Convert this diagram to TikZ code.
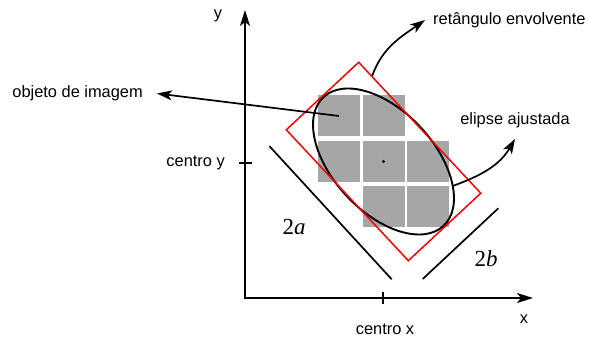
\documentclass[tikz,border=0pt]{standalone}
\usepackage{fontspec}
\setmainfont{Liberation Sans}
\newfontfamily\timesfont{Liberation Serif}
\usetikzlibrary{arrows.meta,shapes.geometric,calc}

\begin{document}
\begin{tikzpicture}[x=1pt, y=1pt,
    txt/.style={font=\fontsize{16.4}{19}\selectfont, inner sep=0pt},
    cell/.style={rectangle, fill=black!35, minimum width=42pt, minimum height=41pt, inner sep=0pt},
    axis/.style={line width=1.9pt, {Stealth[length=16pt,width=10pt,inset=4pt]}-{Stealth[length=16pt,width=10pt,inset=4pt]}},
    pointer/.style={line width=1.7pt, -{Stealth[length=15pt,width=10pt,inset=4pt]}},
    dim/.style={line width=1.7pt},
    dimlabel/.style={font=\timesfont\fontsize{23}{27}\selectfont, inner sep=0pt}
  ]
  \useasboundingbox (0,0) rectangle (589,340);

  % axes
  \coordinate (ytop) at (245,330);
  \coordinate (o) at (245,42);
  \coordinate (xend) at (533,42);
  \draw[axis] (ytop) -- (o) -- (xend);
  \draw[line width=1.9pt] (239,177) -- (252,177);
  \draw[line width=1.9pt] (383,36) -- (383,48);
  \node[txt] (ylab) at (218,324) {y};
  \node[txt] (xlab) at (524,21) {x};
  \node[txt, anchor=east] (cy) at (225,177.5) {centro y};
  \node[txt] (cx) at (385,11) {centro x};

  % pixels of the object
  \coordinate (c) at (383.5,178.5);
  \foreach \i/\j [count=\k] in {-1/1, 0/1, -1/0, 0/0, 1/0, 0/-1, 1/-1}
    \node[cell] (cell\k) at ($(c)+(\i*44.5,\j*45.5)$) {};
  \node[circle, fill, inner sep=0pt, minimum size=3.2pt] (ctr) at (c) {};

  % fitted ellipse and bounding box
  \node[draw, ellipse, line width=1.9pt, minimum width=176pt, minimum height=101pt,
        inner sep=0pt, rotate=-47] (ell) at (c) {};
  \node[draw=red, rectangle, line width=1.5pt, minimum width=179pt, minimum height=99pt,
        inner sep=0pt, rotate=-47] (box) at (c) {};

  % labels with pointers
  \node[txt, anchor=east, inner xsep=14pt] (obj) at (157,246.5) {objeto de imagem};
  \node[txt, anchor=west, inner xsep=8pt] (ret) at (425,320) {retângulo envolvente};
  \node[txt, inner ysep=11pt] (ela) at (515,220) {elipse ajustada};
  \draw[pointer] (cell1.center) -- (obj.east);
  \draw[pointer] ($(box.north west)!0.11!(box.north east)$) to[out=70, in=215] (ret.west);
  \draw[pointer] (ell.28) to[out=20, in=240] (ela.south);

  % sizes
  \coordinate (a1) at (269.3,194);
  \coordinate (a2) at (391.7,60.7);
  \coordinate (b1) at (422.7,61);
  \coordinate (b2) at (498.3,131.7);
  \draw[dim] (a1) -- (a2);
  \draw[dim] (b1) -- (b2);
  \node[dimlabel] (la) at (294,113) {2\textit{a}};
  \node[dimlabel] (lb) at (486,81) {2\textit{b}};
\end{tikzpicture}
\end{document}
